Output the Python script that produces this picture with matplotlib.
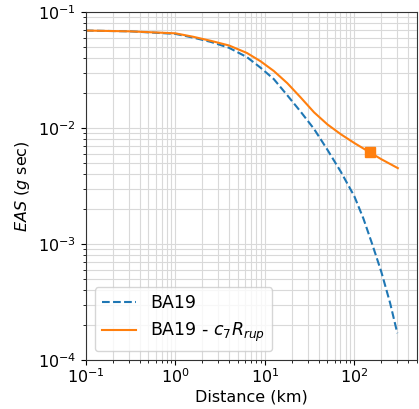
import matplotlib
matplotlib.use("Agg")
import matplotlib.pyplot as plt

# distances (km) and EAS values
dist_ba19 = [0.1, 0.316, 1, 1.58, 2.51, 3.98, 6.31, 8.91, 12.6, 17.8, 25.1, 35.5,
             50.1, 70.8, 100, 126, 158, 200, 251, 302]
eas_ba19 = [0.0690, 0.0679, 0.0646, 0.0600, 0.0550, 0.0490, 0.0407, 0.0331, 0.0263,
            0.0191, 0.0138, 0.00977, 0.00646, 0.00417, 0.00257, 0.00166, 0.0010,
            0.000575, 0.000309, 0.00017]

dist_mod = [0.1, 0.316, 1, 1.58, 2.51, 3.98, 6.31, 8.91, 12.6, 17.8, 25.1, 35.5,
            50.1, 70.8, 100, 148, 200, 306]
eas_mod = [0.0690, 0.0679, 0.0653, 0.0610, 0.0562, 0.0513, 0.0442, 0.0376, 0.0309,
           0.0243, 0.0183, 0.0136, 0.0107, 0.0088, 0.0074, 0.00617, 0.00537, 0.0045]

marker_dist = [148]
marker_eas = [0.00617]

plt.rcParams['font.size'] = 11.5

fig = plt.figure(figsize=(4.19, 4.09), dpi=100)
ax = fig.add_axes([0.205, 0.12, 0.79, 0.851])

ax.loglog(dist_ba19, eas_ba19, '--', color='C0', label='BA19')
ax.loglog(dist_mod, eas_mod, '-', color='C1', label='BA19 - $c_7R_{rup}$')
ax.plot(marker_dist, marker_eas, 's', color='C1', markersize=7)

ax.set_xlim(0.1, 500)
ax.set_ylim(1e-4, 1e-1)
ax.grid(True, which='both', color='#d9d9d9', linewidth=0.8)
for sp in ax.spines.values():
    sp.set_color('#333333')
ax.tick_params(axis='x', pad=2)
ax.set_xlabel('Distance (km)', labelpad=2)
ax.set_ylabel('$EAS$ ($g$ sec)')
ax.legend(loc='lower left', fontsize=12.5)

fig.savefig('out.png', dpi=100)
